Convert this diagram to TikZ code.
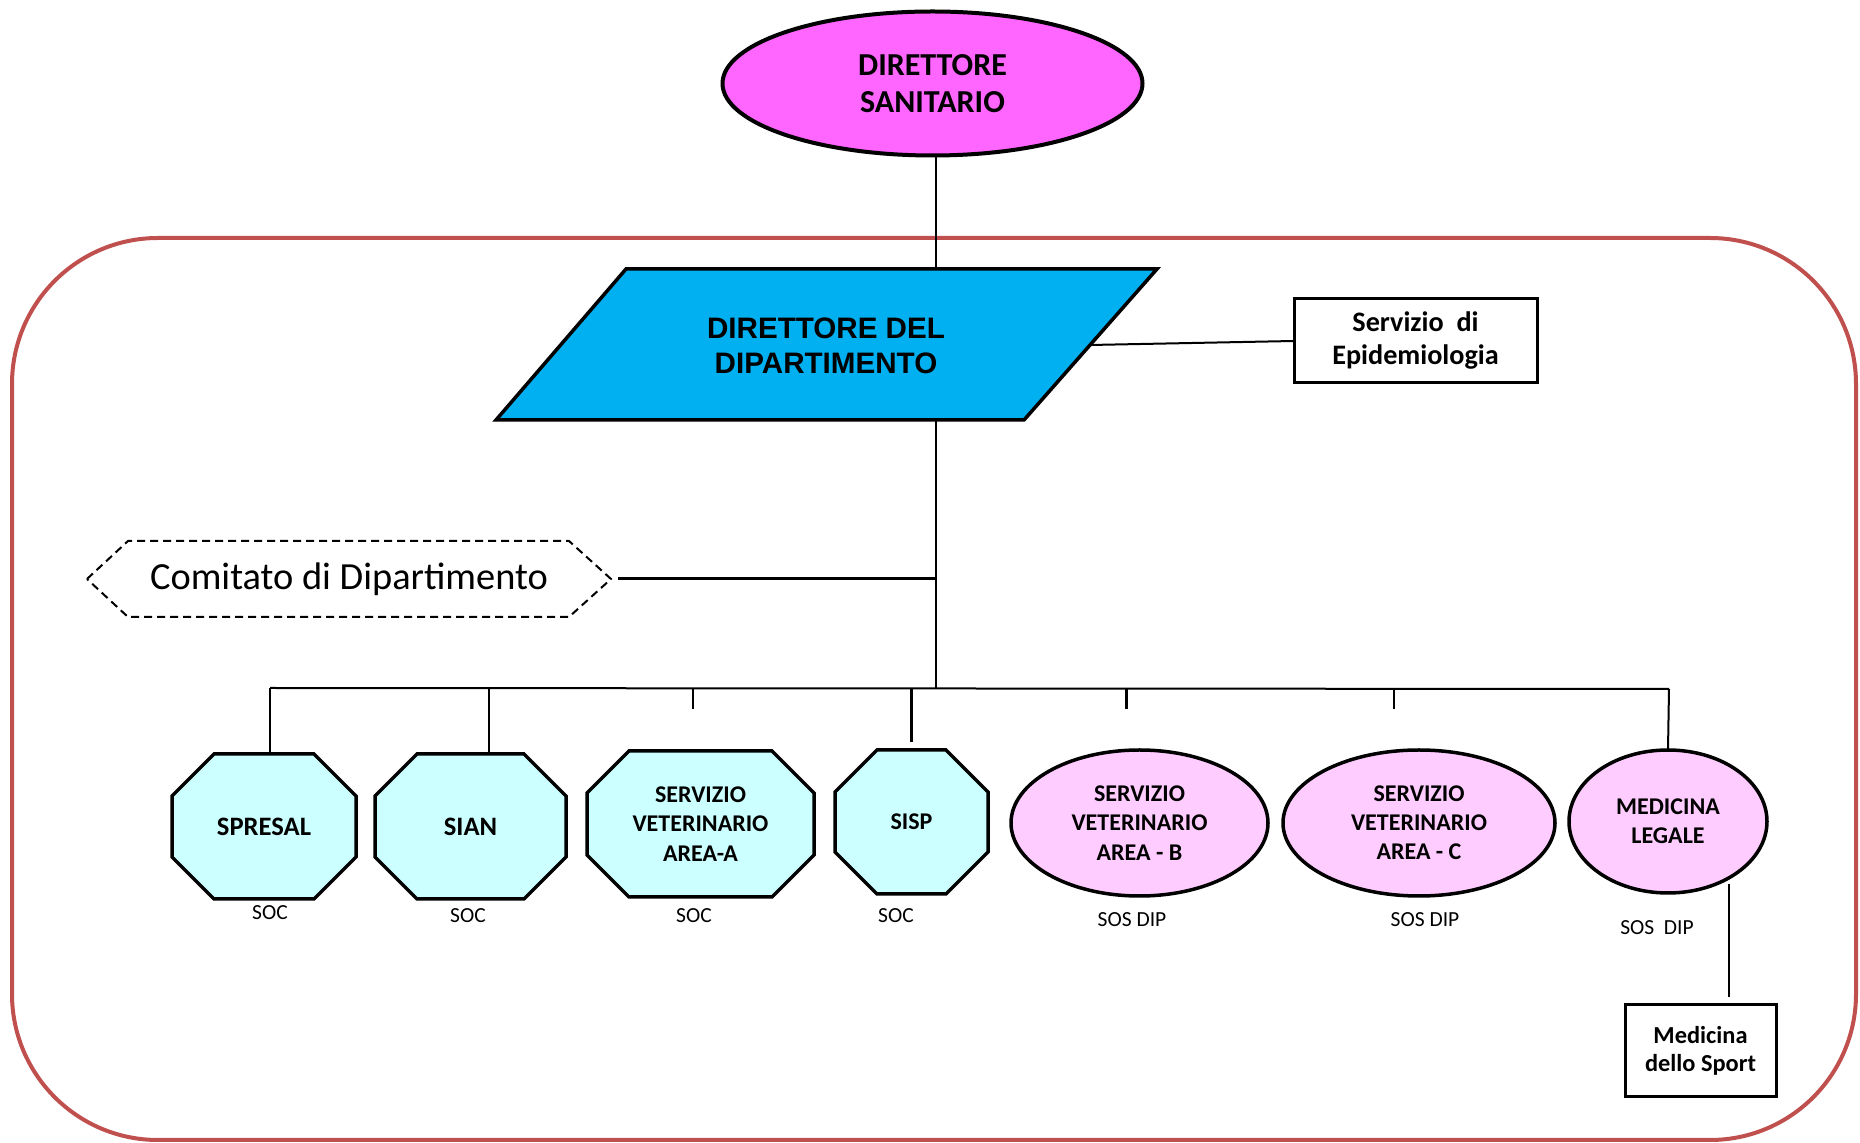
\documentclass[tikz,border=0pt]{standalone}
\usepackage{fontspec}
\setmainfont{Carlito}
\newfontfamily\arialfont{Liberation Sans}
\usetikzlibrary{shapes.geometric,backgrounds,calc}
\definecolor{magtop}{HTML}{FF66FF}
\definecolor{ddblue}{HTML}{00B0F0}
\definecolor{cyanlight}{HTML}{CCFFFF}
\definecolor{pinklight}{HTML}{FFCCFF}
\definecolor{frame}{HTML}{C0504D}
\begin{document}
\begin{tikzpicture}[x=0.5pt,y=-0.5pt,
  conn/.style={line width=1pt},
  thickconn/.style={line width=1.5pt},
  octo/.style={draw, line width=1.75pt, fill=cyanlight},
  octnode/.style={rectangle, inner sep=0pt, outer sep=0pt, align=center, minimum height=72.5pt, font=\fontsize{12}{14.6}\selectfont\bfseries},
  ell/.style={ellipse, draw, line width=1.75pt, fill=pinklight, inner sep=0pt, outer sep=0pt, align=center, font=\fontsize{12}{14.6}\selectfont\bfseries},
  lab/.style={inner sep=0pt, font=\fontsize{10.75}{12}\selectfont},
  sqbox/.style={rectangle, draw, line width=1.5pt, fill=white, align=center, inner sep=0pt, outer sep=0pt},
]
\useasboundingbox (0,0) rectangle (1860,1143);

% outer frame
\draw[frame, line width=2pt, rounded corners=73pt] (12,238) rectangle (1856,1140);

% top ellipse
\node[ellipse, draw, line width=2pt, fill=magtop, minimum width=210pt, minimum height=72pt, inner sep=0pt, outer sep=0pt, align=center, font=\fontsize{16}{18.5}\selectfont\bfseries] (ds) at (932.5,83.5) {DIRETTORE\\SANITARIO};

% director of department (parallelogram)
\coordinate (ptl) at (626,269);
\coordinate (ptr) at (1157,269);
\coordinate (pbr) at (1024,420);
\coordinate (pbl) at (496,420);
\coordinate (pright) at (1090,345);
\node[inner sep=0pt, align=center, font=\arialfont\bfseries\fontsize{14.8}{17.8}\selectfont] (dd) at (826,346) {DIRETTORE DEL\\DIPARTIMENTO};
\begin{scope}[on background layer]
\draw[fill=ddblue, line width=1.75pt, line join=miter] (ptl) -- (ptr) -- (pbr) -- (pbl) -- cycle;
\end{scope}

% epidemiology
\node[sqbox, minimum width=121.5pt, minimum height=42pt, font=\fontsize{14.1}{16.5}\selectfont\bfseries] (epi) at (1415.5,341) {Servizio\ \ di\\Epidemiologia};

% comitato
\node[rectangle, inner sep=0pt, outer sep=0pt, minimum width=262pt, minimum height=38pt, font=\fontsize{19.2}{22}\selectfont] (com) at (349,579) {Comitato di Dipartimento};
\draw[line width=1pt, dash pattern=on 4pt off 2.5pt] (com.west) -- ([xshift=20.5pt]com.north west) -- ([xshift=-21pt]com.north east) -- (com.east) -- ([xshift=-21pt]com.south east) -- ([xshift=20.5pt]com.south west) -- cycle;

% main trunk
\coordinate (j) at (936,579);
\coordinate (bus) at (936,688);
\draw[conn] (ds.south -| j) -- (ptl -| j);
\draw[conn] (pbl -| j) -- (bus);
\draw[thickconn] ([xshift=3.5pt]com.east) -- (j);
\draw[conn] (pright) -- (epi.west);

% units
\node[octnode, minimum width=92pt, font=\fontsize{13.3}{15}\selectfont\bfseries] (spresal) at (264,826.5) {SPRESAL};
\node[octnode, minimum width=95.5pt, font=\fontsize{13.3}{15}\selectfont\bfseries] (sian) at (470.5,826.5) {SIAN};
\node[octnode, minimum width=113.5pt, minimum height=73pt] (sva) at (700.5,824) {SERVIZIO\\VETERINARIO\\AREA-A};
\node[octnode, minimum width=76.5pt, minimum height=72pt] (sisp) at (911.5,822) {SISP};
\begin{scope}[on background layer]
\foreach \n/\dy in {spresal/1,sian/1,sva/0.5,sisp/0}{
  \begin{scope}[yshift=\dy pt]
  \draw[octo] ([xshift=21pt]\n.north west) -- ([xshift=-21pt]\n.north east) -- ([yshift=-21pt]\n.north east) -- ([yshift=21pt]\n.south east) -- ([xshift=-21pt]\n.south east) -- ([xshift=21pt]\n.south west) -- ([yshift=21pt]\n.south west) -- ([yshift=-21pt]\n.north west) -- cycle;
  \end{scope}
}
\end{scope}
\node[ell, minimum width=128.5pt, minimum height=73pt] (areab) at (1139.5,823) {SERVIZIO\\VETERINARIO\\AREA - B};
\node[ell, minimum width=136pt, minimum height=73pt] (areac) at (1419,823) {SERVIZIO\\VETERINARIO\\AREA - C};
\node[ell, minimum width=99pt, minimum height=71.5pt] (medleg) at (1668,821.5) {MEDICINA\\LEGALE};

% bus
\coordinate (bl) at (270,688);
\coordinate (br) at (1669,689);
\draw[conn] (bl) -- (br);
\draw[conn] (bl) -- ([yshift=1pt]bl |- spresal.north);
\coordinate (b2) at (489,688);
\draw[conn] (b2) -- ([yshift=1pt]b2 |- sian.north);
\coordinate (b3) at (693,688);
\draw[conn] (b3) -- (693,709);
\coordinate (b4) at (911,688);
\draw[thickconn] (b4) -- ([yshift=4pt]b4 |- sisp.north);
\coordinate (b5) at (1126,688);
\draw[thickconn] (b5) -- ([yshift=20.5pt]b5 |- areab.north);
\coordinate (b6) at (1394,688);
\draw[conn] (b6) -- ([yshift=20.5pt]b6 |- areac.north);
\draw[conn] (br) -- (medleg.north);

% labels
\node[lab] (l1) at (270,913) {SOC};
\node[lab] (l2) at (468,916) {SOC};
\node[lab] (l3) at (694,916) {SOC};
\node[lab] (l4) at (896,916) {SOC};
\node[lab] (l5) at (1132,920) {SOS DIP};
\node[lab] (l6) at (1425,920) {SOS DIP};
\node[lab] (l7) at (1657,928) {SOS\ \ DIP};

% medicina dello sport
\node[sqbox, minimum width=75.5pt, minimum height=46pt, font=\fontsize{12.2}{14.2}\selectfont\bfseries] (mds) at (1700.5,1051) {Medicina\\dello Sport};
\coordinate (mlx) at (1729,884);
\draw[conn] (mlx) -- ([yshift=4pt]mlx |- mds.north);
\end{tikzpicture}
\end{document}
